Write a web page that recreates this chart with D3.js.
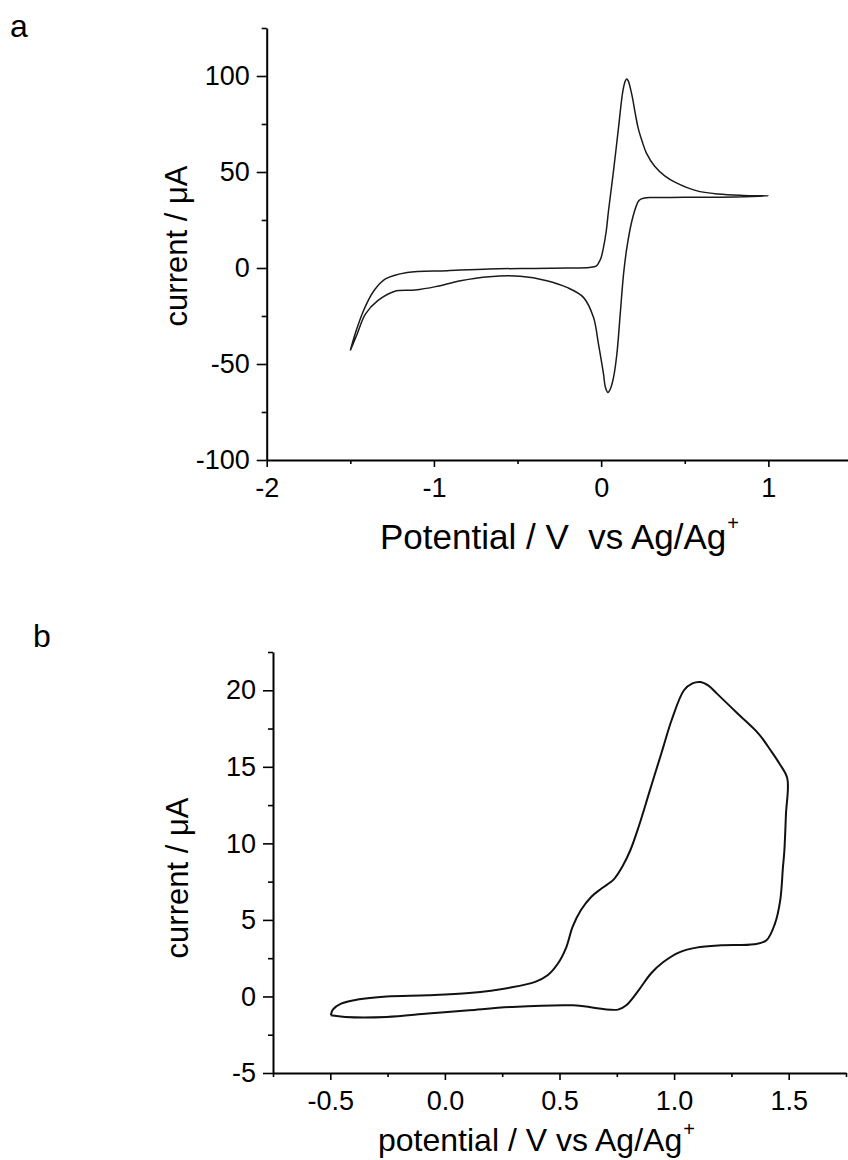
<!DOCTYPE html>
<html><head><meta charset="utf-8">
<script src="https://cdn.jsdelivr.net/npm/d3@7"></script>
<style>
html,body{margin:0;padding:0;background:#fff;}
text{font-family:"Liberation Sans",Arial,sans-serif;fill:#000;}
</style></head>
<body>
<svg id="c" width="848" height="1160"></svg>
<script>
// ---------- Panel a data (CV, µA vs V) ----------
const aPotential = [-1.5,-1.47,-1.42,-1.36,-1.29,-1.16,-0.92,-0.67,-0.4,-0.2,-0.07,-0.03,-0.016,0.0,0.014,0.03,0.044,0.074,0.104,0.13,0.145,0.153,0.162,0.184,0.205,0.221,0.245,0.27,0.32,0.38,0.444,0.568,0.7,0.85,1.0,
  0.8,0.5,0.3,0.26,0.24,0.225,0.213,0.184,0.154,0.134,0.114,0.094,0.074,0.055,0.04,0.025,0.014,-0.016,-0.046,-0.106,-0.205,-0.325,-0.484,-0.668,-0.841,-0.99,-1.113,-1.237,-1.336,-1.41,-1.459,-1.5];
const aCurrent = [-43,-34,-22,-12,-5.7,-2.3,-1.4,-0.5,-0.2,0,0.3,1.0,2.5,5.5,10.7,19,29.8,50.7,73.2,92.3,97.5,98.5,97.5,90,80,73,66,60,53,48,44.6,40.3,38.5,37.8,37.6,
  37.0,36.8,36.7,36.5,36.0,35.0,33,24.6,10.7,-3.1,-24,-44.8,-57,-63,-64.8,-62,-55.2,-39.6,-25.7,-15.3,-10.1,-6.6,-4.3,-4.5,-6.6,-9.7,-11.5,-12.2,-17,-24,-34.4,-43];
const aXTicks = [-2,-1,0,1];
const aXMinor = [-1.5,-0.5,0.5];
const aYTicks = [-100,-50,0,50,100];
const aYMinor = [-75,-25,25,75,125];

// ---------- Panel b data ----------
const bPotential = [-0.498,-0.489,-0.453,-0.381,-0.254,-0.074,0.106,0.286,0.394,0.448,0.493,0.53,0.557,0.593,0.638,0.683,0.737,0.775,0.809,0.845,0.89,0.917,0.953,0.989,1.043,1.08,1.115,1.15,1.187,1.277,1.368,1.421,1.46,1.494,
  1.488,1.481,1.475,1.463,1.44,1.403,1.349,1.205,1.097,1.025,0.953,0.899,0.845,0.791,0.755,0.557,0.286,0.106,-0.074,-0.254,-0.435,-0.498];
const bCurrent = [-1.23,-0.86,-0.47,-0.2,0.0,0.08,0.23,0.58,0.95,1.38,2.15,3.23,4.54,5.63,6.5,7.05,7.65,8.5,9.55,11.07,13.25,14.56,16.3,18.04,20.0,20.45,20.54,20.3,19.78,18.48,17.17,16.08,15.2,14.23,
  11.9,9.5,8.46,6.28,4.76,3.67,3.41,3.34,3.19,2.9,2.25,1.5,0.4,-0.58,-0.86,-0.58,-0.69,-0.9,-1.12,-1.34,-1.34,-1.23];
const bXTicks = [-0.5,0.0,0.5,1.0,1.5];
const bXMinor = [-0.75,-0.25,0.25,0.75,1.25,1.75];
const bYTicks = [-5,0,5,10,15,20];
const bYMinor = [-2.5,2.5,7.5,12.5,17.5,22.5];

const svg = d3.select("#c");
svg.append("rect").attr("width",848).attr("height",1160).attr("fill","#fff");

function panel(cfg){
  const g = svg.append("g");
  const x = d3.scaleLinear().domain(cfg.xd).range(cfg.xr);
  const y = d3.scaleLinear().domain(cfg.yd).range(cfg.yr);
  g.append("g").attr("transform",`translate(0,${cfg.yr[0]})`)
    .call(d3.axisBottom(x).tickValues(cfg.xMinor).tickSize(4).tickFormat(""))
    .call(s=>s.select(".domain").remove());
  g.append("g").attr("transform",`translate(${cfg.xr[0]},0)`)
    .call(d3.axisLeft(y).tickValues(cfg.yMinor).tickSize(5).tickFormat(""))
    .call(s=>s.select(".domain").remove());
  g.append("g").attr("transform",`translate(0,${cfg.yr[0]})`)
    .call(d3.axisBottom(x).tickValues(cfg.xTicks).tickSize(7).tickPadding(11).tickSizeOuter(0).tickFormat(cfg.fmtX));
  g.append("g").attr("transform",`translate(${cfg.xr[0]},0)`)
    .call(d3.axisLeft(y).tickValues(cfg.yTicks).tickSize(10).tickPadding(7).tickSizeOuter(0).tickFormat(cfg.fmtY));
  g.selectAll(".tick line").attr("stroke","#000").attr("stroke-width",1.6);
  g.selectAll(".domain").attr("stroke","#000").attr("stroke-width",2);
  g.selectAll(".tick text").attr("font-size",27).attr("font-family","'Liberation Sans',Arial,sans-serif").attr("fill","#000");
  const pts = cfg.px.map((v,i)=>[v,cfg.py[i]]);
  g.append("path").datum(pts)
    .attr("fill","none").attr("stroke",cfg.color).attr("stroke-width",cfg.lw)
    .attr("stroke-linejoin","round")
    .attr("d", d3.line().x(d=>x(d[0])).y(d=>y(d[1])).curve(d3.curveCatmullRom.alpha(0.5)));
  const t = g.append("text").attr("x",cfg.xtX).attr("y",cfg.xtY).attr("font-size",cfg.xtSize);
  t.append("tspan").text(cfg.xTitle);
  t.append("tspan").attr("dx",1).attr("dy",cfg.supDy).attr("font-size",20).text("+");
  g.append("text").attr("transform",`translate(${cfg.ytX},${cfg.ytY}) rotate(-90)`)
    .attr("text-anchor","middle").attr("font-size",31).text("current / \u03bcA");
  g.append("text").attr("x",cfg.lblX).attr("y",cfg.lblY).attr("font-size",32).text(cfg.lbl);
}

panel({xd:[-2,1.5], xr:[266.7,852], yd:[-100,125], yr:[460,28],
  xTicks:aXTicks, xMinor:aXMinor, yTicks:aYTicks, yMinor:aYMinor,
  fmtX:d=>String(d), fmtY:d=>String(d),
  px:aPotential, py:aCurrent, color:"#1a1a1a", lw:1.5,
  xTitle:"Potential / V\u00a0\u00a0vs Ag/Ag", xtX:380, xtY:549, xtSize:35, supDy:-19,
  ytX:187, ytY:246, lbl:"a", lblX:10, lblY:37});

panel({xd:[-0.75,1.75], xr:[273,846], yd:[-5,22.5], yr:[1073,652],
  xTicks:bXTicks, xMinor:bXMinor, yTicks:bYTicks, yMinor:bYMinor,
  fmtX:d=>d.toFixed(1), fmtY:d=>String(d),
  px:bPotential, py:bCurrent, color:"#111", lw:2,
  xTitle:"potential / V vs Ag/Ag", xtX:378, xtY:1151, xtSize:32, supDy:-15,
  ytX:188, ytY:878, lbl:"b", lblX:33, lblY:647});
</script>
</body></html>
